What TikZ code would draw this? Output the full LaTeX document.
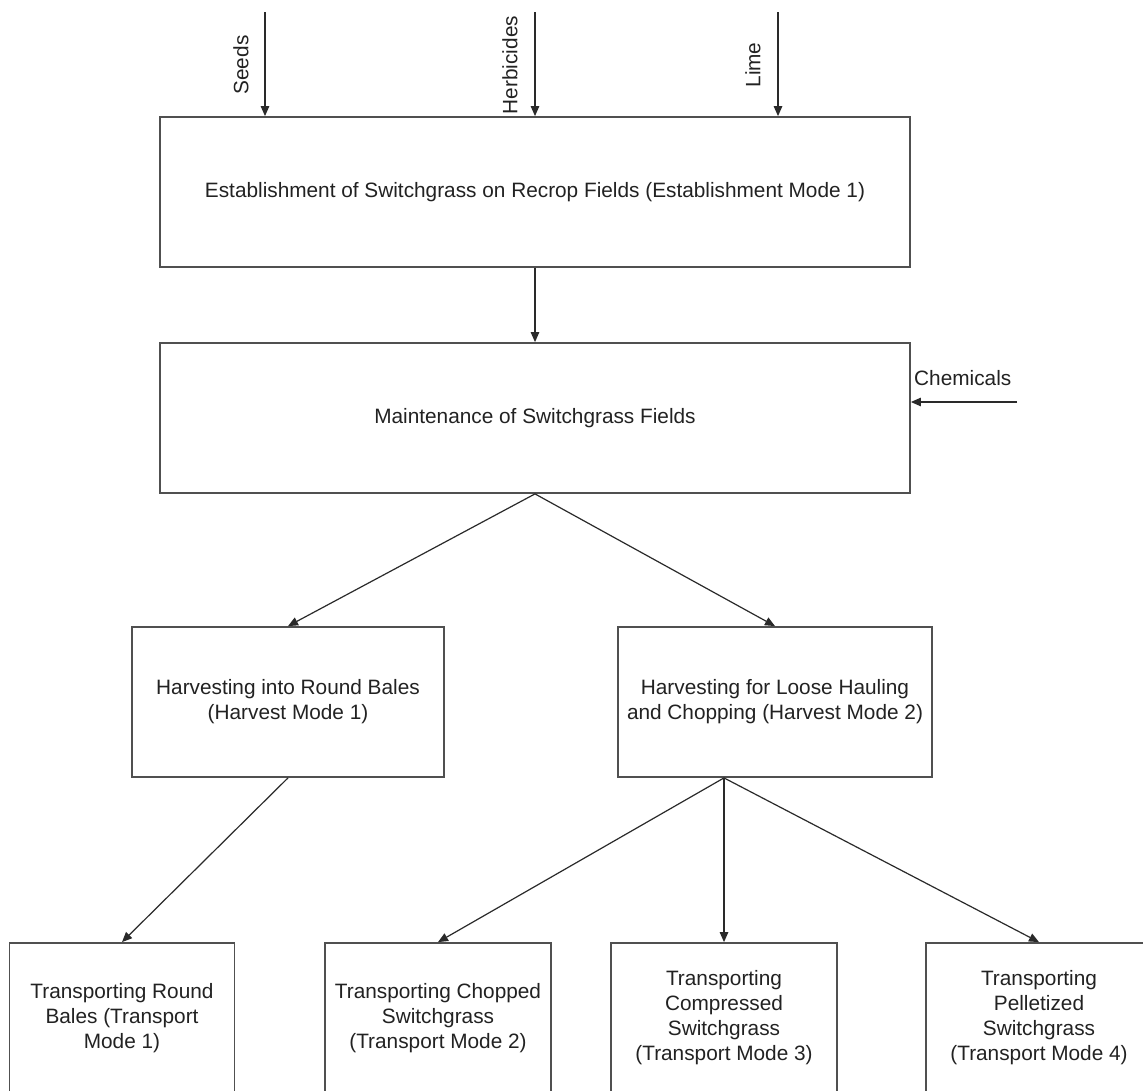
\documentclass[tikz,border=0pt]{standalone}
\usepackage{fontspec}
\setmainfont{Liberation Sans}
\usetikzlibrary{arrows.meta,calc}
\definecolor{edgegray}{HTML}{505050}
\definecolor{linegray}{HTML}{2A2A2A}
\definecolor{txtgray}{HTML}{222222}
\begin{document}
\begin{tikzpicture}[x=1pt,y=-1pt,
  procbox/.style={draw=edgegray,line width=1.8pt,inner sep=0pt,align=center,
    text=txtgray,font=\fontsize{20.8}{25}\selectfont},
  flow/.style={draw=linegray,line width=1.2pt,-{Triangle[length=10pt,width=8.5pt]}},
  inlabel/.style={text=txtgray,font=\fontsize{20.8}{24}\selectfont,inner sep=0pt}]
\path[use as bounding box,fill=white] (0,0) rectangle (1143,1090);
\clip (0,0) rectangle (1143,1090);

\node[procbox,minimum width=750pt,minimum height=150pt] (est) at (535,192)
  {Establishment of Switchgrass on Recrop Fields (Establishment Mode 1)};
\node[procbox,minimum width=750pt,minimum height=150pt] (mnt) at (535,418)
  {Maintenance of Switchgrass Fields};

\node[procbox,minimum width=312pt,minimum height=150pt] (h1) at (288,702)
  {Harvesting into Round Bales\\(Harvest Mode 1)};
\node[procbox,minimum width=314pt,minimum height=150pt] (h2) at (775,702)
  {Harvesting for Loose Hauling\\and Chopping (Harvest Mode 2)};

\node[procbox,minimum width=225pt,minimum height=150pt] (t1) at (122,1018)
  {Transporting Round\\Bales (Transport\\Mode 1)};
\node[procbox,minimum width=226pt,minimum height=150pt] (t2) at (438,1018)
  {Transporting Chopped\\Switchgrass\\(Transport Mode 2)};
\node[procbox,minimum width=226pt,minimum height=150pt] (t3) at (724,1018)
  {Transporting\\Compressed\\Switchgrass\\(Transport Mode 3)};
\node[procbox,minimum width=226pt,minimum height=150pt] (t4) at (1039,1018)
  {Transporting\\Pelletized\\Switchgrass\\(Transport Mode 4)};

% inputs at the top
\coordinate (seedsrc) at (265,12);
\coordinate (herbsrc) at (535,12);
\coordinate (limesrc) at (778,12);
\draw[flow] (seedsrc) -- (seedsrc |- est.north);
\draw[flow] (herbsrc) -- (herbsrc |- est.north);
\draw[flow] (limesrc) -- (limesrc |- est.north);
\node[inlabel,rotate=90] (seedslbl) at (241,65) {Seeds};
\node[inlabel,rotate=90] (herblbl) at (510,65) {Herbicides};
\node[inlabel,rotate=90] (limelbl) at (753,65) {Lime};

% chemicals
\coordinate (chemsrc) at (1017,402);
\draw[flow] (chemsrc) -- (chemsrc -| mnt.east);
\node[inlabel,anchor=west] (chemlbl) at (914,378) {Chemicals};

% flow
\coordinate (h2out) at (h2.south -| t3.north);
\draw[flow] (est.south) -- (mnt.north);
\draw[flow] (mnt.south) -- (h1.north);
\draw[flow] (mnt.south) -- (h2.north);
\draw[flow] (h1.south) -- (t1.north);
\draw[flow] (h2out) -- (t2.north);
\draw[flow] (h2out) -- (t3.north);
\draw[flow] (h2out) -- (t4.north);
\end{tikzpicture}
\end{document}
